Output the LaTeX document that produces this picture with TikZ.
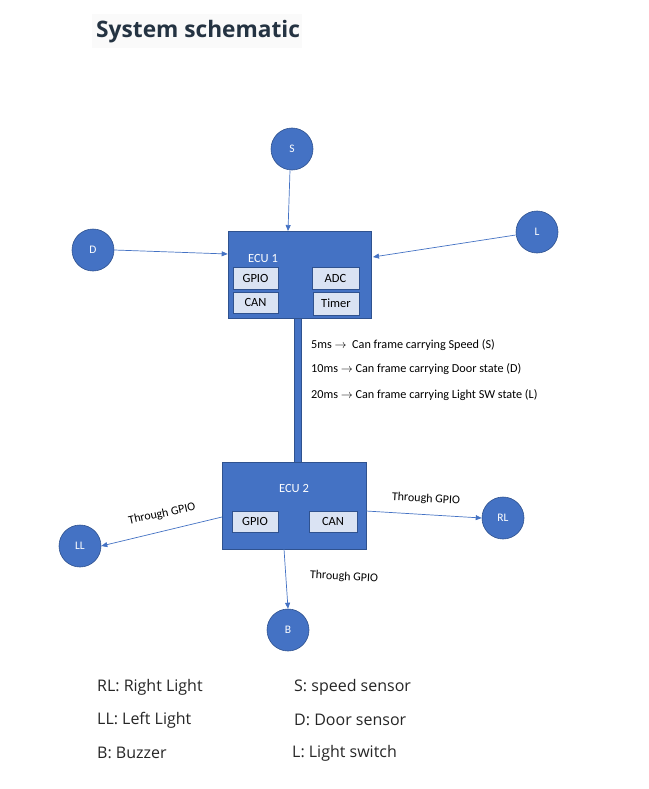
\documentclass[tikz,border=0pt]{standalone}
\usepackage{fontspec}
\setmainfont{Open Sans}
\newfontfamily\carl{Carlito}
\usetikzlibrary{arrows.meta}
\definecolor{offblue}{HTML}{4472C4}
\definecolor{offedge}{HTML}{2F528F}
\definecolor{subfill}{HTML}{DAE3F3}
\definecolor{titlecol}{HTML}{243342}
\tikzset{
  sensor/.style={circle, fill=offblue, draw=offedge, line width=0.6pt, minimum size=42pt, inner sep=0pt, text=white, font=\carl\fontsize{11.5}{13}\selectfont},
  ecubox/.style={rectangle, fill=offblue, draw=offedge, line width=0.6pt, inner sep=0pt},
  subbox/.style={rectangle, fill=subfill, draw=offedge, line width=0.6pt, inner sep=0pt, font=\carl\fontsize{12.5}{14}\selectfont},
  conn/.style={draw=offblue, line width=0.7pt, -{Triangle[length=6pt,width=5pt]}},
  lbl/.style={font=\carl\fontsize{12}{14}\selectfont, inner sep=0pt},
  legend/.style={font=\fontsize{16}{19}\selectfont, anchor=west, inner sep=0pt, text=black!85},
  bustext/.style={font=\carl\fontsize{12.2}{14}\selectfont, anchor=west, inner sep=0pt}
}
\newcommand{\rarr}{\raisebox{0.3pt}{$\rightarrow$}}
\begin{document}
\begin{tikzpicture}[x=1pt,y=-1pt]
\useasboundingbox (0,0) rectangle (648,789);
\fill[white] (0,0) rectangle (648,789);
% title
\fill[black!2] (92,14) rectangle (302,48);
\node[anchor=west, inner sep=0pt, text=titlecol, font=\bfseries\fontsize{22.7}{26}\selectfont] (title) at (96,32) {System schematic};
% sensors
\node[sensor] (S) at (292,149) {S};
\node[sensor] (D) at (93,250) {D};
\node[sensor] (L) at (537,232) {L};
\node[sensor] (LL) at (80,546) {LL};
\node[sensor] (RL) at (503,518) {RL};
\node[sensor] (B) at (288,630) {B};
% bus
\node[ecubox, minimum width=7pt, minimum height=150pt] (bus) at (297.5,391) {};
% ECU1
\node[ecubox, minimum width=143pt, minimum height=87pt] (ecu1) at (299.5,274.5) {};
\node[text=white, font=\carl\fontsize{12.5}{14}\selectfont] (ecu1l) at (263,258) {ECU 1};
\node[subbox, minimum width=45pt, minimum height=22pt] (g1) at (255.5,278) {GPIO};
\node[subbox, minimum width=47pt, minimum height=22pt] (a1) at (335.5,278) {ADC};
\node[subbox, minimum width=45pt, minimum height=21pt] (c1) at (255.5,302.5) {CAN};
\node[subbox, minimum width=46pt, minimum height=23pt] (t1) at (336,303.5) {Timer};
% ECU2
\node[ecubox, minimum width=144pt, minimum height=87pt] (ecu2) at (294,505.5) {};
\node[text=white, font=\carl\fontsize{12.5}{14}\selectfont] (ecu2l) at (294,488) {ECU 2};
\node[subbox, minimum width=46pt, minimum height=21pt] (g2) at (255,521.5) {GPIO};
\node[subbox, minimum width=48pt, minimum height=21pt] (c2) at (333,521.5) {CAN};
% bus text
\node[bustext] (t5) at (311,345) {5ms \rarr\ \ Can frame carrying Speed (S)};
\node[bustext] (t10) at (311,369) {10ms \rarr\ Can frame carrying Door state (D)};
\node[bustext] (t20) at (311,395) {20ms \rarr\ Can frame carrying Light SW state (L)};
% connectors
\draw[conn] (S.south) ++(-2,0) coordinate (sS) -- (288,231) coordinate (e1t);
\draw[conn] (D.east) -- (ecu1.west |- 0,254) coordinate (e1w);
\draw[conn] (L.west) ++(0,3) coordinate (lW) -- (373,257) coordinate (e1e);
\coordinate (e2w) at (222,517);
\draw[conn] (e2w) -- (LL.east);
\coordinate (e2e) at (366,511);
\draw[conn] (e2e) -- (RL.west);
\coordinate (e2s) at (284,549);
\draw[conn] (e2s) -- (B.north);
% labels
\node[lbl, rotate=12] (lbl1) at (162,514) {Through GPIO};
\node[lbl, rotate=-3] (lbl2) at (426,499) {Through GPIO};
\node[lbl, rotate=-3] (lbl3) at (344,577) {Through GPIO};
% legend
\node[legend] (lg1) at (97,687) {RL: Right Light};
\node[legend] (lg2) at (97,720) {LL: Left Light};
\node[legend] (lg3) at (97,753) {B: Buzzer};
\node[legend] (lg4) at (294,687) {S: speed sensor};
\node[legend] (lg5) at (294,720) {D: Door sensor};
\node[legend] (lg6) at (292,753) {L: Light switch};
\end{tikzpicture}
\end{document}
